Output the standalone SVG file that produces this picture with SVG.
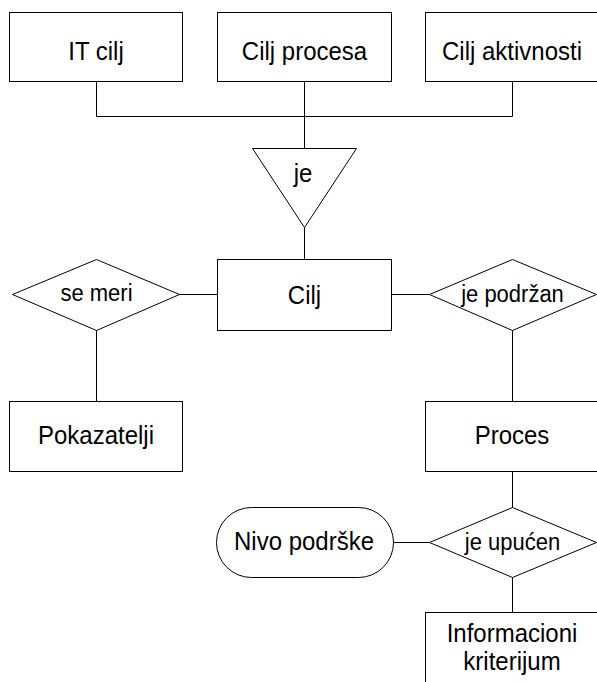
<svg xmlns="http://www.w3.org/2000/svg" width="597" height="682" viewBox="0 0 597 682">
<style>
.shape{fill:#fff;stroke:#000;stroke-width:1}
.conn line,.conn polyline{stroke:#000;stroke-width:1;fill:none}
text{font-family:"Liberation Sans",Arial,sans-serif;fill:#000;text-anchor:middle}
.big{font-size:24px}
.small{font-size:22px}
</style>
<rect width="597" height="682" fill="#fff"/>
<g class="conn" id="connectors">
<polyline points="96.5,81.5 96.5,116.5 512.5,116.5 512.5,81.5"/>
<line x1="304.5" y1="81.5" x2="304.5" y2="148.5"/>
<line x1="304.5" y1="227.5" x2="304.5" y2="259.5"/>
<line x1="179.5" y1="294.5" x2="217.5" y2="294.5"/>
<line x1="391.5" y1="294.5" x2="429.5" y2="294.5"/>
<line x1="96.5" y1="330.5" x2="96.5" y2="401.5"/>
<line x1="512.5" y1="330.5" x2="512.5" y2="401.5"/>
<line x1="512.5" y1="471.5" x2="512.5" y2="507.5"/>
<line x1="393.5" y1="542.5" x2="429.5" y2="542.5"/>
<line x1="512.5" y1="577.5" x2="512.5" y2="612.5"/>
</g>
<g id="it-cilj">
<rect class="shape" x="9.5" y="12.5" width="173" height="69"/>
<text class="big" transform="translate(96,60) scale(1,1.08)">IT cilj</text>
</g>
<g id="cilj-procesa">
<rect class="shape" x="217.5" y="12.5" width="174" height="69"/>
<text class="big" transform="translate(304.5,60) scale(1,1.08)">Cilj procesa</text>
</g>
<g id="cilj-aktivnosti">
<rect class="shape" x="425.5" y="12.5" width="174" height="69"/>
<text class="big" transform="translate(512,60) scale(1,1.08)">Cilj aktivnosti</text>
</g>
<g id="je">
<polygon class="shape" points="252.5,148.5 356.5,148.5 304.5,227.5"/>
<text class="big" transform="translate(303,182) scale(1,1.08)">je</text>
</g>
<g id="cilj">
<rect class="shape" x="217.5" y="259.5" width="174" height="71"/>
<text class="big" transform="translate(304.5,304) scale(1,1.08)">Cilj</text>
</g>
<g id="se-meri">
<polygon class="shape" points="12.5,294.5 96.5,259.5 179.5,294.5 96.5,330.5"/>
<text class="small" transform="translate(96.5,301) scale(1,1.06)">se meri</text>
</g>
<g id="je-podrzan">
<polygon class="shape" points="429.5,294.5 512.5,259.5 596.5,294.5 512.5,330.5"/>
<text class="small" transform="translate(512.5,301.5) scale(1,1.06)">je podržan</text>
</g>
<g id="pokazatelji">
<rect class="shape" x="9.5" y="401.5" width="173" height="70"/>
<text class="big" transform="translate(96,444) scale(1,1.08)">Pokazatelji</text>
</g>
<g id="proces">
<rect class="shape" x="425.5" y="401.5" width="174" height="70"/>
<text class="big" transform="translate(512,444) scale(1,1.08)">Proces</text>
</g>
<g id="je-upucen">
<polygon class="shape" points="429.5,542.5 512.5,507.5 596.5,542.5 512.5,577.5"/>
<text class="small" transform="translate(512.5,550) scale(1,1.06)">je upućen</text>
</g>
<g id="nivo-podrske">
<rect class="shape" x="216.5" y="507.5" width="177" height="70" rx="35" ry="35"/>
<text class="big" transform="translate(304,550) scale(1,1.08)">Nivo podrške</text>
</g>
<g id="informacioni-kriterijum">
<rect class="shape" x="425.5" y="612.5" width="174" height="100"/>
<text class="big" transform="translate(512,642) scale(1,1.08)">Informacioni</text>
<text class="big" transform="translate(512,670) scale(1,1.08)">kriterijum</text>
</g>
</svg>
